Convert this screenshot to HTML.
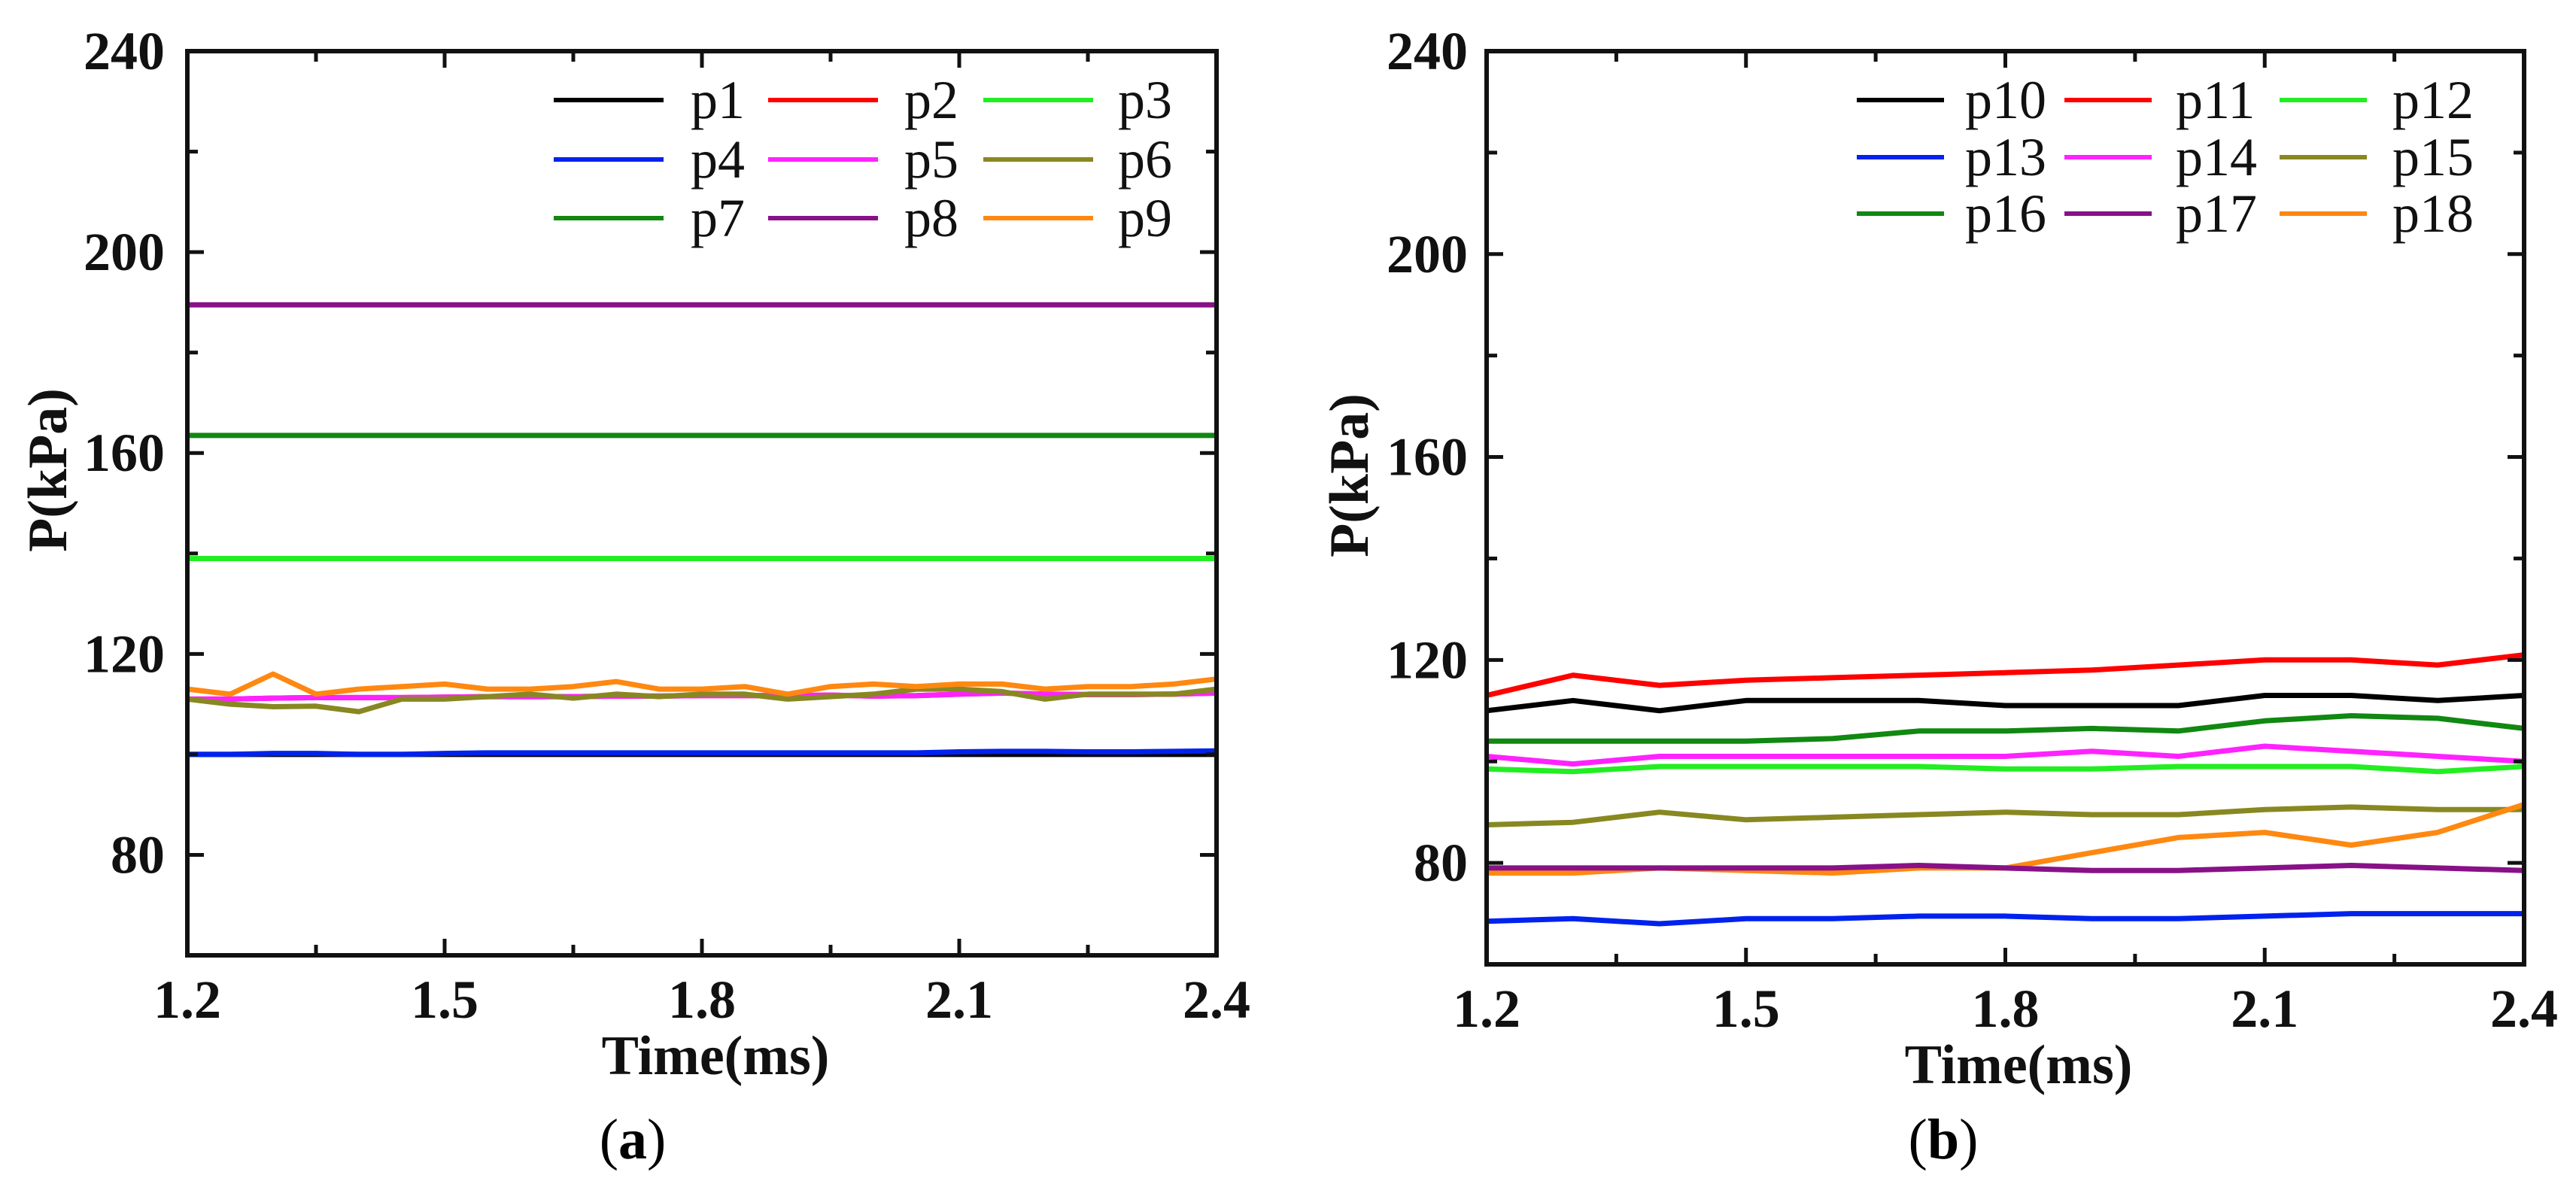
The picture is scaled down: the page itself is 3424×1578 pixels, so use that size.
<!DOCTYPE html>
<html><head><meta charset="utf-8">
<style>
html,body{margin:0;padding:0;background:#fff;}
svg{display:block;}
text{font-family:"Liberation Serif",serif;}
</style></head>
<body>
<svg id="fig" width="3424" height="1578" viewBox="0 0 3424 1578" xmlns="http://www.w3.org/2000/svg">
<rect x="0" y="0" width="3424" height="1578" fill="#fff"/>
<g id="panelA"></g>
<g id="panelB"></g>
<text x="841" y="1540" text-anchor="middle" font-size="76">(<tspan font-weight="bold">a</tspan>)</text>
<text x="2583" y="1540" text-anchor="middle" font-size="76">(<tspan font-weight="bold">b</tspan>)</text>
</svg>
<script>
// ---- data ----
const timeA = [1.2,1.25,1.3,1.35,1.4,1.45,1.5,1.55,1.6,1.65,1.7,1.75,1.8,1.85,1.9,1.95,2.0,2.05,2.1,2.15,2.2,2.25,2.3,2.35,2.4];
const timeB = [1.2,1.3,1.4,1.5,1.6,1.7,1.8,1.9,2.0,2.1,2.2,2.3,2.4];
const xTicks = [1.2,1.5,1.8,2.1,2.4];
const yTicks = [80,120,160,200,240];
const namesA = ["p1","p2","p3","p4","p5","p6","p7","p8","p9"];
const namesB = ["p10","p11","p12","p13","p14","p15","p16","p17","p18"];
const colors = ["#000000","#ff0000","#22ee22","#0022ee","#ff22ff","#888822","#118811","#881188","#ff8811"];
const p1 = [100,100,100,100,100,100,100,100,100,100,100,100,100,100,100,100,100,100,100,100,100,100,100,100,100];
const p2 = [111,111,111.2,111.3,111.3,111.3,111.4,111.5,111.5,111.5,111.6,111.6,111.7,111.7,111.7,111.8,111.6,111.7,112,112.2,112,111.9,111.9,112,112.2];
const p3 = [139,139,139,139,139,139,139,139,139,139,139,139,139,139,139,139,139,139,139,139,139,139,139,139,139];
const p4 = [100,100,100.2,100.2,100,100,100.2,100.3,100.3,100.3,100.3,100.3,100.3,100.3,100.3,100.3,100.3,100.3,100.5,100.6,100.6,100.5,100.5,100.6,100.7];
const p5 = [111,111,111.2,111.3,111.3,111.3,111.4,111.5,111.5,111.5,111.6,111.6,111.7,111.7,111.7,111.8,111.6,111.7,112,112.2,112,111.9,111.9,112,112.2];
const p6 = [111,110,109.5,109.6,108.5,111,111,111.5,112,111.2,112,111.5,112,112,111,111.5,112,113,113,112.5,111,112,112,112,113];
const p7 = [163.5,163.5,163.5,163.5,163.5,163.5,163.5,163.5,163.5,163.5,163.5,163.5,163.5,163.5,163.5,163.5,163.5,163.5,163.5,163.5,163.5,163.5,163.5,163.5,163.5];
const p8 = [189.5,189.5,189.5,189.5,189.5,189.5,189.5,189.5,189.5,189.5,189.5,189.5,189.5,189.5,189.5,189.5,189.5,189.5,189.5,189.5,189.5,189.5,189.5,189.5,189.5];
const p9 = [113,112,116,112,113,113.5,114,113,113,113.5,114.5,113,113,113.5,112,113.5,114,113.5,114,114,113,113.5,113.5,114,115];
const p10 = [110,112,110,112,112,112,111,111,111,113,113,112,113];
const p11 = [113,117,115,116,116.5,117,117.5,118,119,120,120,119,121];
const p12 = [98.5,98,99,99,99,99,98.5,98.5,99,99,99,98,99];
const p13 = [68.5,69,68,69,69,69.5,69.5,69,69,69.5,70,70,70];
const p14 = [101,99.5,101,101,101,101,101,102,101,103,102,101,100];
const p15 = [87.5,88,90,88.5,89,89.5,90,89.5,89.5,90.5,91,90.5,90.5];
const p16 = [104,104,104,104,104.5,106,106,106.5,106,108,109,108.5,106.5];
const p17 = [79,79,79,79,79,79.5,79,78.5,78.5,79,79.5,79,78.5];
const p18 = [78,78,79,78.5,78,79,79,82,85,86,83.5,86,91.5];
const seriesA = [p1,p2,p3,p4,p5,p6,p7,p8,p9];
const seriesB = [p10,p11,p12,p13,p14,p15,p16,p17,p18];
const drawOrderA = [7,6,2,1,4,5,8,0,3];
const drawOrderB = [1,0,6,4,2,5,8,7,3];

const NS = "http://www.w3.org/2000/svg";
function mk(tag, attrs, parent){const e=document.createElementNS(NS,tag);for(const k in attrs)e.setAttribute(k,attrs[k]);parent.appendChild(e);return e;}

function drawPanel(g, cfg, times, series, names, order){
  const L=cfg.L,R=cfg.R,T=cfg.T,B=cfg.B;
  const xs=v=>L+(v-1.2)/(2.4-1.2)*(R-L);
  const ys=v=>B-(v-60)/(240-60)*(B-T);
  order.forEach(i=>{
    const vals=series[i];
    const tt=vals.length===times.length?times:timeB;
    const d=vals.map((v,j)=>(j?"L":"M")+xs(tt[j]).toFixed(1)+" "+ys(v).toFixed(1)).join(" ");
    const p=mk("path",{d:d,fill:"none",stroke:colors[i],"stroke-width":7,"stroke-linejoin":"round"},g);
    
    
  });
  const fr=mk("rect",{x:L,y:T,width:R-L,height:B-T,fill:"none",stroke:"#111","stroke-width":6},g);
  
  
  for(let v=1.2;v<=2.4001;v+=0.15){
    const major=Math.abs(((v-1.2)/0.3)-Math.round((v-1.2)/0.3))<1e-6;
    const len=major?22:14,x=xs(v);
    const t1=mk("line",{x1:x,y1:B,x2:x,y2:B-len,stroke:"#111","stroke-width":5},g);
    
    
    const t2=mk("line",{x1:x,y1:T,x2:x,y2:T+len,stroke:"#111","stroke-width":5},g);
    
    
  }
  xTicks.forEach(v=>{
    const t=mk("text",{x:xs(v),y:B+83,"text-anchor":"middle","font-size":72,"font-weight":"bold",fill:"#111"},g);
    t.textContent=v.toFixed(1);
    
    
  });
  for(let v=80;v<=240;v+=20){
    const major=v%40===0,len=major?22:14,y=ys(v);
    const t1=mk("line",{x1:L,y1:y,x2:L+len,y2:y,stroke:"#111","stroke-width":5},g);
    
    
    const t2=mk("line",{x1:R,y1:y,x2:R-len,y2:y,stroke:"#111","stroke-width":5},g);
    
    
  }
  yTicks.forEach(v=>{
    const t=mk("text",{x:cfg.yLabelX,y:ys(v)+24,"text-anchor":"end","font-size":72,"font-weight":"bold",fill:"#111"},g);
    t.textContent=String(v);
    
    
  });
  const xt=mk("text",{x:cfg.xTitleX,y:B+158,"text-anchor":"middle","font-size":74,"font-weight":"bold",fill:"#111"},g);
  xt.textContent="Time(ms)";
  
  
  const yt=mk("text",{x:0,y:0,"text-anchor":"middle","font-size":74,"font-weight":"bold",fill:"#111",transform:"translate("+cfg.yTitleX+","+cfg.yTitleY+") rotate(-90)"},g);
  yt.textContent="P(kPa)";
  
  
  names.forEach((n,i)=>{
    const col=i%3,row=Math.floor(i/3);
    const y=cfg.legY[row];
    const ln=mk("line",{x1:cfg.legL[col],y1:y,x2:cfg.legL[col]+cfg.legW,y2:y,stroke:colors[i],"stroke-width":6},g);
    
    
    const t=mk("text",{x:cfg.legT[col],y:y+24,"font-size":72,fill:"#111"},g);
    t.textContent=n;
    
    
  });
}
drawPanel(document.getElementById("panelA"),
  {L:249,R:1617,T:68,B:1270,yLabelX:219,xTitleX:951,yTitleX:88,yTitleY:625,
   legY:[133,212,290],legL:[736,1021,1307],legW:146,legT:[918,1202,1486]},
  timeA,seriesA,namesA,drawOrderA);
drawPanel(document.getElementById("panelB"),
  {L:1976,R:3355,T:68,B:1282,yLabelX:1951,xTitleX:2683,yTitleX:1818,yTitleY:632,
   legY:[133,209,284],legL:[2468,2744,3030],legW:116,legT:[2612,2892,3180]},
  timeB,seriesB,namesB,drawOrderB);
</script>
</body></html>
